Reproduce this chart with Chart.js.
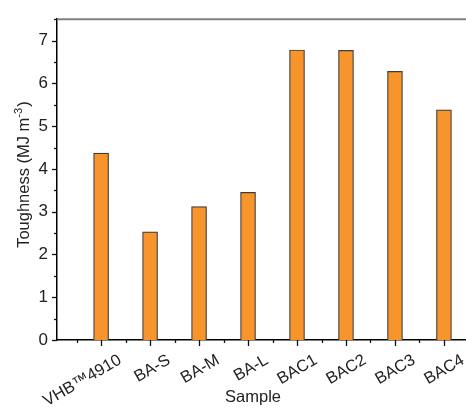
<!DOCTYPE html>
<html><head><meta charset="utf-8">
<script src="https://cdn.jsdelivr.net/npm/chart.js@4"></script>
<style>html,body{margin:0;padding:0;background:#fff;overflow:hidden}#w{width:466px;height:412px}</style>
</head><body><div id="w"><canvas id="c" width="466" height="412"></canvas></div>
<script>
const categories = ["VHB\u21224910","BA-S","BA-M","BA-L","BAC1","BAC2","BAC3","BAC4"];
const toughness = [4.37, 2.53, 3.12, 3.45, 6.78, 6.77, 6.28, 5.38];
const yTicks = [0,1,2,3,4,5,6,7];
const yTitleParts = ["Toughness (MJ m", "-3", ")"];
const xTitle = "Sample";
const FONT = "Liberation Sans, Arial, sans-serif";

const axisDecor = {
  id: 'axisDecor',
  afterDraw(chart) {
    const ctx = chart.ctx, a = chart.chartArea;
    const xs = chart.scales.x, ys = chart.scales.y;
    ctx.save();
    // top frame line
    ctx.strokeStyle = '#808080'; ctx.lineWidth = 2;
    ctx.beginPath(); ctx.moveTo(a.left, a.top); ctx.lineTo(a.right + 5, a.top); ctx.stroke();
    ctx.strokeStyle = '#111'; ctx.lineWidth = 1.3;
    // y ticks
    for (let v = 0; v <= 7.5; v += 0.5) {
      const y = Math.round(ys.getPixelForValue(v)) + 0.5;
      const len = Number.isInteger(v) ? 5 : 3;
      ctx.beginPath(); ctx.moveTo(a.left - len, y); ctx.lineTo(a.left, y); ctx.stroke();
    }
    // x ticks
    for (let v = -0.5; v < categories.length; v += 0.5) {
      const x = Math.round(xs.getPixelForValue(v)) + 0.5;
      if (x > a.right - 1) continue;
      const len = Number.isInteger(v) ? 6 : 3;
      ctx.beginPath(); ctx.moveTo(x, a.bottom); ctx.lineTo(x, a.bottom + len); ctx.stroke();
    }
    // x labels
    ctx.fillStyle = '#222';
    ctx.font = '16.5px ' + FONT;
    ctx.textAlign = 'right'; ctx.textBaseline = 'middle';
    categories.forEach((c, i) => {
      const x = xs.getPixelForValue(i);
      ctx.save();
      ctx.translate(x + 19, a.bottom + 19);
      ctx.rotate(-Math.PI / 6);
      ctx.fillText(c, 0, 0);
      ctx.restore();
    });
    // x title
    ctx.textAlign = 'center'; ctx.textBaseline = 'middle';
    ctx.font = '16.5px ' + FONT;
    ctx.fillText(xTitle, 253, 397);
    // y title with superscript
    const big = '16.5px ' + FONT, small = '11px ' + FONT;
    ctx.font = big; const w1 = ctx.measureText(yTitleParts[0]).width;
    const w3 = ctx.measureText(yTitleParts[2]).width;
    ctx.font = small; const w2 = ctx.measureText(yTitleParts[1]).width;
    const total = w1 + w2 + 1 + w3;
    ctx.translate(29, (a.top + a.bottom) / 2 - 5);
    ctx.rotate(-Math.PI / 2);
    ctx.textAlign = 'left'; ctx.textBaseline = 'alphabetic';
    let px = -total / 2;
    ctx.font = big; ctx.fillText(yTitleParts[0], px, 0); px += w1;
    ctx.font = small; ctx.fillText(yTitleParts[1], px, -7); px += w2 + 1;
    ctx.font = big; ctx.fillText(yTitleParts[2], px, 0);
    ctx.restore();
  }
};

new Chart(document.getElementById('c'), {
  type: 'bar',
  data: {
    datasets: [{
      data: toughness.map((v, i) => ({x: i, y: v})),
      backgroundColor: '#F7942C',
      borderColor: '#3c3c3c',
      borderWidth: 1.2,
      borderSkipped: 'bottom',
      barThickness: 15
    }]
  },
  options: {
    responsive: false,
    animation: false,
    layout: {padding: {top: 7, left: 0, right: 0, bottom: 0}},
    plugins: {legend: {display: false}, tooltip: {enabled: false}},
    scales: {
      x: {
        type: 'linear', min: -0.9, max: 7.45, offset: false,
        afterBuildTicks(s) { s.ticks = categories.map((_, i) => ({value: i})); },
        afterFit(s) { s.height = 72; },
        grid: {display: false, drawTicks: false, offset: false},
        border: {color: '#000', width: 1.5},
        ticks: {display: false}
      },
      y: {
        min: 0, max: 7.5,
        afterBuildTicks(s) { s.ticks = yTicks.map(v => ({value: v})); },
        afterFit(s) { s.width = 57; },
        grid: {display: false, drawTicks: false},
        border: {color: '#000', width: 1.5},
        ticks: {padding: 9, color: '#222', font: {family: FONT, size: 17}},
        title: {display: false}
      }
    }
  },
  plugins: [axisDecor]
});
</script></body></html>
